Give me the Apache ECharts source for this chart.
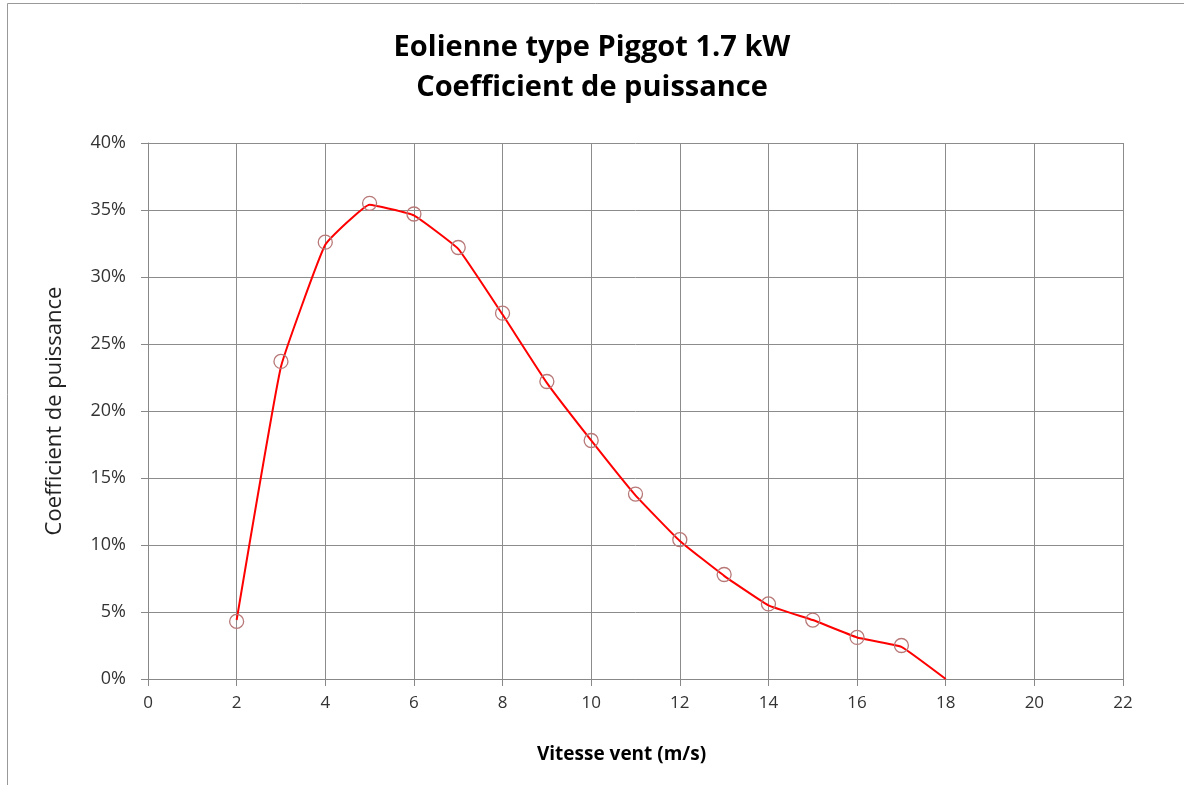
<!DOCTYPE html>
<html>
<head>
<meta charset="utf-8">
<script src="https://cdn.jsdelivr.net/npm/echarts@6/dist/echarts.min.js"></script>
<style>html,body{margin:0;padding:0;background:#fff;}#c{width:1184px;height:785px;}</style>
</head>
<body>
<div id="c"></div>
<script>
var windSpeed = [2, 3, 4, 5, 6, 7, 8, 9, 10, 11, 12, 13, 14, 15, 16, 17];
var cpMeasured = [4.3, 23.7, 32.6, 35.5, 34.7, 32.2, 27.3, 22.2, 17.8, 13.8, 10.4, 7.8, 5.6, 4.4, 3.1, 2.5];
var lineSpeed = [2, 3, 4, 5, 6, 7, 8, 9, 10, 11, 12, 13, 14, 15, 16, 17, 18];
var cpLine = [4.4, 23.3, 32.4, 35.4, 34.6, 32.1, 27.2, 22.1, 17.8, 13.7, 10.3, 7.7, 5.5, 4.4, 3.1, 2.4, 0];
var titleLines = ['Eolienne type Piggot 1.7 kW', 'Coefficient de puissance'];
var xName = 'Vitesse vent (m/s)';
var yName = 'Coefficient de puissance';

var chart = echarts.init(document.getElementById('c'), null, {renderer: 'canvas'});
var font = '"Open Sans", "Liberation Sans", sans-serif';
var labelFont = '"Open Sans", "Liberation Sans", sans-serif';
chart.setOption({
  backgroundColor: '#fff',
  animation: false,
  title: {
    text: titleLines.join('\n'),
    left: 'center',
    top: 23,
    textStyle: {fontFamily: font, fontSize: 29, fontWeight: 'bold', color: '#000', lineHeight: 40}
  },
  graphic: [
    {type: 'line', shape: {x1: 7.5, y1: 3.5, x2: 1184, y2: 3.5}, style: {stroke: '#999', lineWidth: 1}},
    {type: 'line', shape: {x1: 7.5, y1: 3.5, x2: 7.5, y2: 785}, style: {stroke: '#999', lineWidth: 1}}
  ],
  grid: {left: 148, right: 61, top: 143, bottom: 106},
  xAxis: {
    type: 'value', min: 0, max: 22, interval: 2,
    name: xName, nameLocation: 'middle', nameGap: 66,
    nameTextStyle: {fontFamily: font, fontSize: 19, fontWeight: 'bold', color: '#000', padding: [0, 28, 0, 0]},
    axisLine: {show: true, lineStyle: {color: '#888', width: 1}},
    axisTick: {show: true, inside: false, length: 7, lineStyle: {color: '#888'}},
    axisLabel: {fontFamily: labelFont, fontSize: 17, color: '#333', margin: 16},
    splitLine: {show: true, lineStyle: {color: '#8c8c8c', width: 1}}
  },
  yAxis: {
    type: 'value', min: 0, max: 40, interval: 5,
    name: yName, nameLocation: 'middle', nameGap: 82, nameRotate: 90,
    nameTextStyle: {fontFamily: labelFont, fontSize: 22, color: '#222'},
    axisLine: {show: true, lineStyle: {color: '#888', width: 1}},
    axisTick: {show: true, inside: false, length: 7, lineStyle: {color: '#888'}},
    axisLabel: {fontFamily: labelFont, fontSize: 18, color: '#333', margin: 22, formatter: '{value}%'},
    splitLine: {show: true, lineStyle: {color: '#8c8c8c', width: 1}}
  },
  series: [
    {
      type: 'line',
      data: lineSpeed.map(function (x, i) { return [x, cpLine[i]]; }),
      showSymbol: false,
      symbol: 'none',
      smooth: 0.1,
      lineStyle: {color: '#ff0000', width: 2},
      z: 3
    },
    {
      type: 'scatter',
      data: windSpeed.map(function (x, i) { return [x, cpMeasured[i]]; }),
      symbol: 'circle',
      symbolSize: 14,
      itemStyle: {color: 'rgba(255,255,255,0)', borderColor: '#b87878', borderWidth: 1.3, opacity: 1},
      z: 4
    }
  ]
});
</script>
</body>
</html>
